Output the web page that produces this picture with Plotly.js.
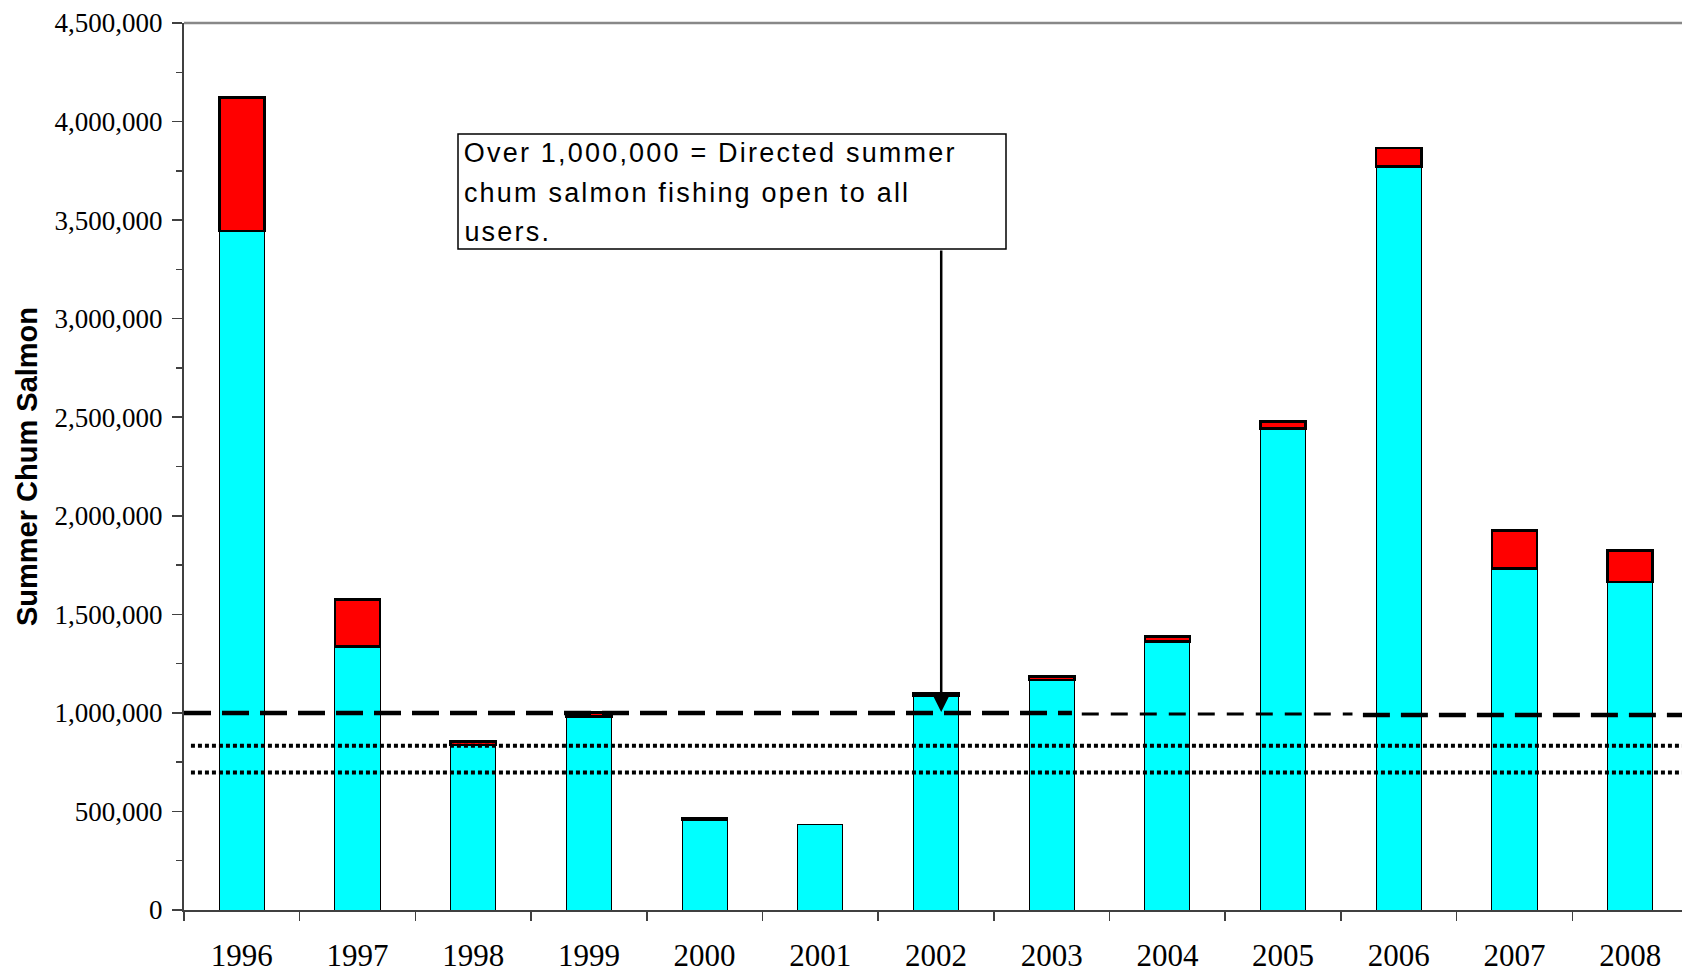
<!DOCTYPE html>
<html>
<head>
<meta charset="utf-8">
<script src="https://cdn.plot.ly/plotly-3.0.1.min.js"></script>
<style>
html,body{margin:0;padding:0;overflow:hidden;background:#fff;}
#chart{width:1690px;height:973px;}
#chart .annotation-text{letter-spacing:2.2px;}
</style>
</head>
<body>
<div id="chart"></div>
<script>
// ---- data ----
var years = ['1996','1997','1998','1999','2000','2001','2002','2003','2004','2005','2006','2007','2008'];
var escapement = [3445000, 1338000, 836000, 982000, 458000, 435000, 1088000, 1168000, 1361000, 2443000, 3771000, 1733000, 1665000];
var harvest    = [677000, 237000, 18000, 20000, 5000, 0, 13000, 16000, 26000, 35000, 94000, 193000, 159000];
var yTickVals  = [0, 500000, 1000000, 1500000, 2000000, 2500000, 3000000, 3500000, 4000000, 4500000];

// reference lines
var threshold      = 1000000;            // directed fishing threshold
var thresholdParts = [ {x0:-0.5, x1:7.175, y:1000000, w:4.5, dash:'27px,11px'},
                       {x0:7.26, x1:9.60,  y:994000,  w:3,   dash:'17px,12px'},
                       {x0:9.69, x1:12.5,  y:989000,  w:4.5, dash:'27px,11px'} ];
var goalLines      = [833000, 698000];
var noteLines      = ['Over 1,000,000 = Directed summer', 'chum salmon fishing open to all', 'users.'];

// ---- geometry helpers (pixel layout) ----
var L = 184, T = 23, B = 63, W = 1690, H = 973;
var plotH = H - T - B;
var LETTER_SP = 2.2;
function py(pix){ return (H - B - pix) / plotH; } // pixel y -> paper y
function px(pix){ return (pix - L) / (W - 2 - L); } // pixel x -> paper x

var traces = [
  {type:'bar', x:years, y:escapement, name:'Escapement',
   marker:{color:'#00FFFF', line:{color:'#000', width:1}}},
  {type:'bar', x:years, y:harvest, name:'Harvest',
   marker:{color:'#FF0000', line:{color:'#000', width:harvest.map(function(v){return v > 0 ? 2.5 : 0;})}}}
];

var shapes = [];
// top border line
shapes.push({type:'line', xref:'paper', yref:'paper', x0:0, x1:1, y0:1, y1:1,
             line:{color:'#888', width:2.5}, layer:'above'});
thresholdParts.forEach(function(p){
  shapes.push({type:'line', xref:'x', yref:'y', x0:p.x0, x1:p.x1, y0:p.y, y1:p.y,
               line:{color:'#000', width:p.w, dash:p.dash}, layer:'above'});
});
goalLines.forEach(function(g){
  shapes.push({type:'line', xref:'x', yref:'y', x0:-0.44, x1:12.5, y0:g, y1:g,
               line:{color:'#000', width:4, dash:'4px,3px'}, layer:'above'});
});
// note box
shapes.push({type:'rect', xref:'paper', yref:'paper', x0:px(458), x1:px(1006), y0:py(249), y1:py(134),
             line:{color:'#000', width:1.5}, fillcolor:'#fff', layer:'above'});

var annotations = [];
var lineY = [153, 193, 232];
noteLines.forEach(function(t, i){
  // letter-spacing widens centred text on both sides; shift to keep left edge fixed
  var shift = t.length * LETTER_SP / 2;
  annotations.push({xref:'paper', yref:'paper', x:px(462 + shift), y:py(lineY[i]), xanchor:'left', yanchor:'middle',
    text:t, showarrow:false, font:{family:'Liberation Sans, Arial, sans-serif', size:27, color:'#000'}});
});
// arrow
annotations.push({xref:'x', yref:'y', axref:'x', ayref:'y', x:6.045, y:threshold*1.005, ax:6.045, ay:3354000,
  text:'', showarrow:true, arrowhead:2, arrowsize:1.6, arrowwidth:2.5, arrowcolor:'#000', standoff:0, startstandoff:0});

var layout = {
  width: W, height: H,
  margin:{l:L, r:2, t:T, b:B, pad:0},
  paper_bgcolor:'#fff', plot_bgcolor:'#fff',
  barmode:'stack', bargap:0.61,
  showlegend:false,
  xaxis:{type:'category', range:[-0.5, 12.5], showgrid:false, zeroline:false,
    showline:true, linecolor:'#404040', linewidth:2,
    ticks:'outside', tickson:'boundaries', ticklen:9, tickcolor:'#404040', tickwidth:1.5,
    ticklabelstandoff:17,
    tickfont:{family:'Liberation Serif, Times New Roman, serif', size:31, color:'#000'}},
  yaxis:{range:[0, 4500000], showgrid:false, zeroline:false,
    showline:true, linecolor:'#404040', linewidth:2,
    tickmode:'array', tickvals:yTickVals, tickformat:',d',
    ticks:'outside', ticklen:10, tickcolor:'#404040', tickwidth:1.5,
    ticklabelstandoff:4,
    minor:{dtick:250000, ticks:'outside', ticklen:6, tickcolor:'#404040', tickwidth:1.5, showgrid:false},
    tickfont:{family:'Liberation Serif, Times New Roman, serif', size:27, color:'#000'},
    title:{text:'Summer Chum Salmon', standoff:8,
      font:{family:'Liberation Sans, Arial, sans-serif', size:29, color:'#000', weight:'bold'}}},
  shapes: shapes,
  annotations: annotations
};

Plotly.newPlot('chart', traces, layout, {displayModeBar:false, staticPlot:true});
</script>
</body>
</html>
